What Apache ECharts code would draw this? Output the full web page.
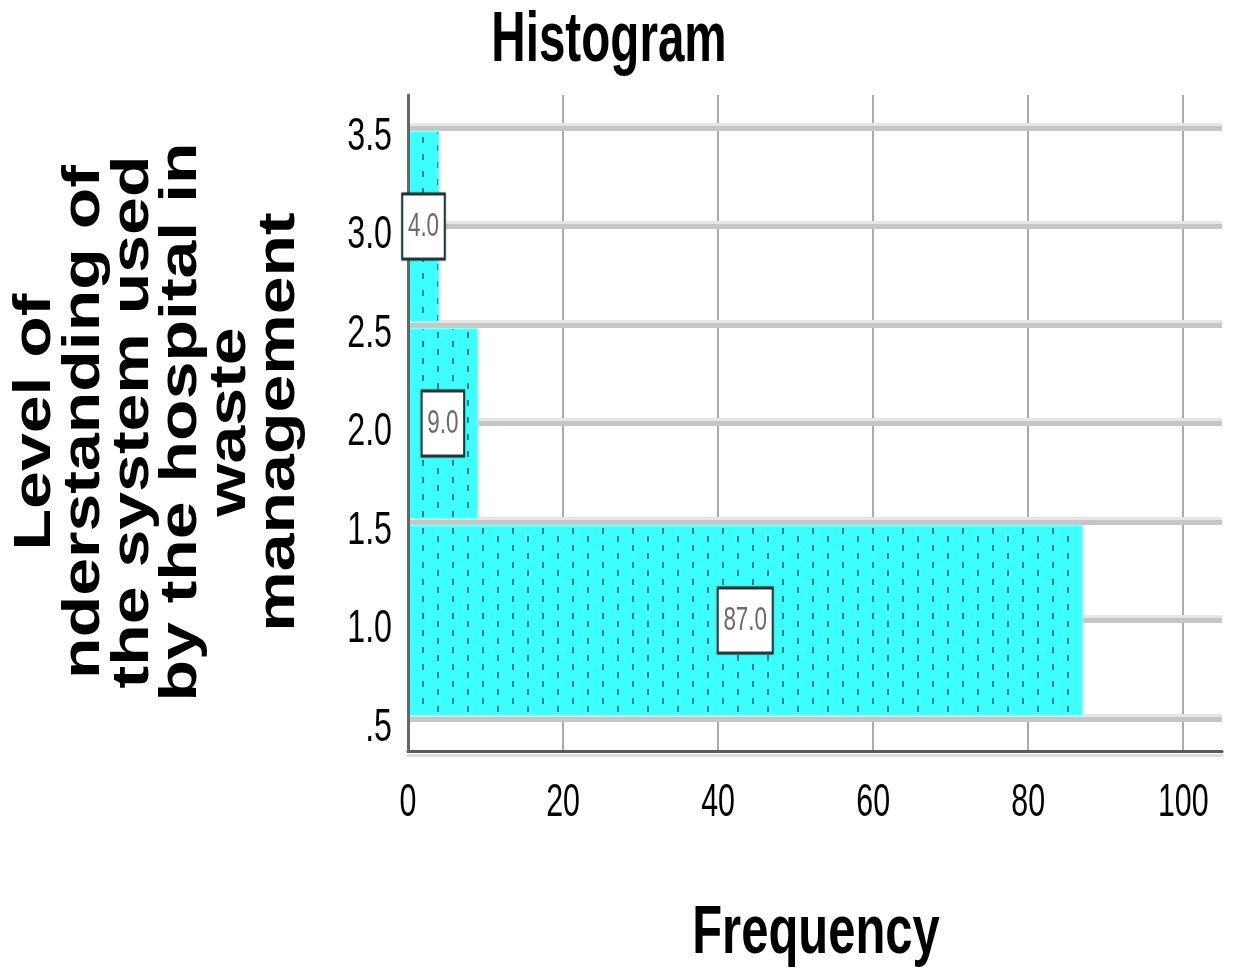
<!DOCTYPE html>
<html>
<head>
<meta charset="utf-8">
<script src="https://cdn.jsdelivr.net/npm/echarts@6/dist/echarts.min.js"></script>
<style>
  html, body { margin: 0; padding: 0; background: #ffffff; overflow: hidden; }
  #chart { width: 1235px; height: 969px; }
</style>
</head>
<body>
<div id="chart"></div>
<script>
// ---- data ----
const binLow = [0.5, 1.5, 2.5];
const binHigh = [1.5, 2.5, 3.5];
const frequency = [87, 9, 4];
const yTickLabels = ['.5', '1.0', '1.5', '2.0', '2.5', '3.0', '3.5'];
const xTickLabels = ['0', '20', '40', '60', '80', '100'];
const chartTitle = 'Histogram';
const xTitle = 'Frequency';
const yTitleLines = ['Level of', 'nderstanding of', 'the system used', 'by the hospital in', 'waste', 'management'];

// ---- styles ----
const SANS = '"Liberation Sans", Arial, sans-serif';
const SQUEEZE = 0.7;

const tile = document.createElement('canvas');
tile.width = 30; tile.height = 17;
(function () {
  const c = tile.getContext('2d');
  c.fillStyle = '#3cffff';
  c.fillRect(0, 0, 30, 17);
  c.fillStyle = '#1c8282';
  c.fillRect(2, 1, 2, 6);
  c.fillRect(17, 9, 2, 6);
})();
const barFill = { image: tile, repeat: 'repeat' };

const binData = binLow.map((lo, i) => [lo, binHigh[i], frequency[i]]);

const chart = echarts.init(document.getElementById('chart'), null, { renderer: 'canvas' });

function renderBar(params, api) {
  const lo = api.value(0), hi = api.value(1), f = api.value(2);
  const p0 = api.coord([0, hi]);
  const p1 = api.coord([f, lo]);
  const inset = 3.5;
  return {
    type: 'rect',
    shape: { x: p0[0], y: p0[1] + inset, width: p1[0] - p0[0], height: p1[1] - p0[1] - 2 * inset },
    style: { fill: barFill, stroke: '#8cffff', lineWidth: 1.5 }
  };
}

function renderLabel(params, api) {
  const lo = api.value(0), hi = api.value(1), f = api.value(2);
  const c = api.coord([f / 2, (lo + hi) / 2]);
  return {
    type: 'text',
    x: c[0],
    y: c[1],
    scaleX: 0.66,
    style: {
      text: f.toFixed(1),
      font: '34px ' + SANS,
      fill: '#6a6a6a',
      align: 'center',
      verticalAlign: 'middle',
      lineHeight: 34,
      backgroundColor: '#ffffff',
      borderColor: '#2e2e2e',
      borderWidth: 3,
      padding: [14, 7, 14, 7],
      shadowColor: 'rgba(0,110,110,0.6)',
      shadowBlur: 2
    }
  };
}

const baseGraphics = [
  {
    id: 'title', type: 'text', x: 609, y: 42, scaleX: 0.68,
    style: { text: chartTitle, font: 'bold 70px ' + SANS, fill: '#000', align: 'center', verticalAlign: 'middle' }
  },
  {
    id: 'xname', type: 'text', x: 816, y: 934, scaleX: 0.72,
    style: { text: xTitle, font: 'bold 68px ' + SANS, fill: '#000', align: 'center', verticalAlign: 'middle' }
  },
  {
    id: 'yname', type: 'text', x: 158, y: 422, rotation: Math.PI / 2, scaleY: 0.75,
    style: { text: yTitleLines.join('\n'), font: 'bold 68px ' + SANS, lineHeight: 65, fill: '#000', align: 'center', verticalAlign: 'middle' }
  }
];

const option = {
  backgroundColor: '#ffffff',
  animation: false,
  grid: [
    { left: 408, right: 13, top: 95, bottom: 218 },
    { left: 408, right: 13, top: 128, bottom: 250 }
  ],
  xAxis: [
    {
      gridIndex: 0, type: 'value', min: 0, max: 105, interval: 20, z: 0,
      axisLine: { show: true, onZero: false, lineStyle: { color: '#5a5a5a', width: 3, shadowColor: '#dddddd', shadowOffsetY: 4 } },
      axisTick: { show: false },
      splitLine: { show: true, showMaxLine: false, lineStyle: { color: '#ababab', width: 2 } },
      axisLabel: { show: false }
    },
    { gridIndex: 1, type: 'value', min: 0, max: 105, show: false }
  ],
  yAxis: [
    {
      gridIndex: 0, type: 'value', min: 0, max: 1, z: 4,
      axisLine: { show: true, onZero: false, lineStyle: { color: '#666666', width: 3 } },
      axisTick: { show: false }, axisLabel: { show: false }, splitLine: { show: false }
    },
    {
      gridIndex: 1, type: 'value', min: 0.5, max: 3.5, interval: 0.5, z: 1,
      axisLine: { show: false }, axisTick: { show: false },
      splitLine: { show: true, lineStyle: { color: '#c6c6c6', width: 5, shadowColor: '#e6e6e6', shadowOffsetY: -3 } },
      axisLabel: { show: false }
    }
  ],
  series: [
    { type: 'custom', xAxisIndex: 1, yAxisIndex: 1, z: 2, silent: true, renderItem: renderBar, data: binData },
    { type: 'custom', xAxisIndex: 1, yAxisIndex: 1, z: 5, silent: true, renderItem: renderLabel, data: binData }
  ],
  graphic: baseGraphics
};

chart.setOption(option);

// Tick labels placed through the axes' own scales (condensed like the reference)
const tickGraphics = [];
const x0 = chart.convertToPixel({ xAxisIndex: 0 }, 0);
yTickLabels.forEach((lab, i) => {
  const py = chart.convertToPixel({ yAxisIndex: 1 }, parseFloat(lab));
  tickGraphics.push({
    id: 'ytick' + i, type: 'text', x: x0 - 16, y: py + 9, scaleX: SQUEEZE,
    style: { text: lab, font: '46px ' + SANS, fill: '#000', align: 'right', verticalAlign: 'middle' }
  });
});
const axisBottom = chart.convertToPixel({ yAxisIndex: 0 }, 0);
xTickLabels.forEach((lab, i) => {
  const px = chart.convertToPixel({ xAxisIndex: 0 }, parseFloat(lab));
  tickGraphics.push({
    id: 'xtick' + i, type: 'text', x: px, y: axisBottom + 52, scaleX: 0.66,
    style: { text: lab, font: '46px ' + SANS, fill: '#000', align: 'center', verticalAlign: 'middle' }
  });
});
chart.setOption({ graphic: baseGraphics.concat(tickGraphics) });
</script>
</body>
</html>
